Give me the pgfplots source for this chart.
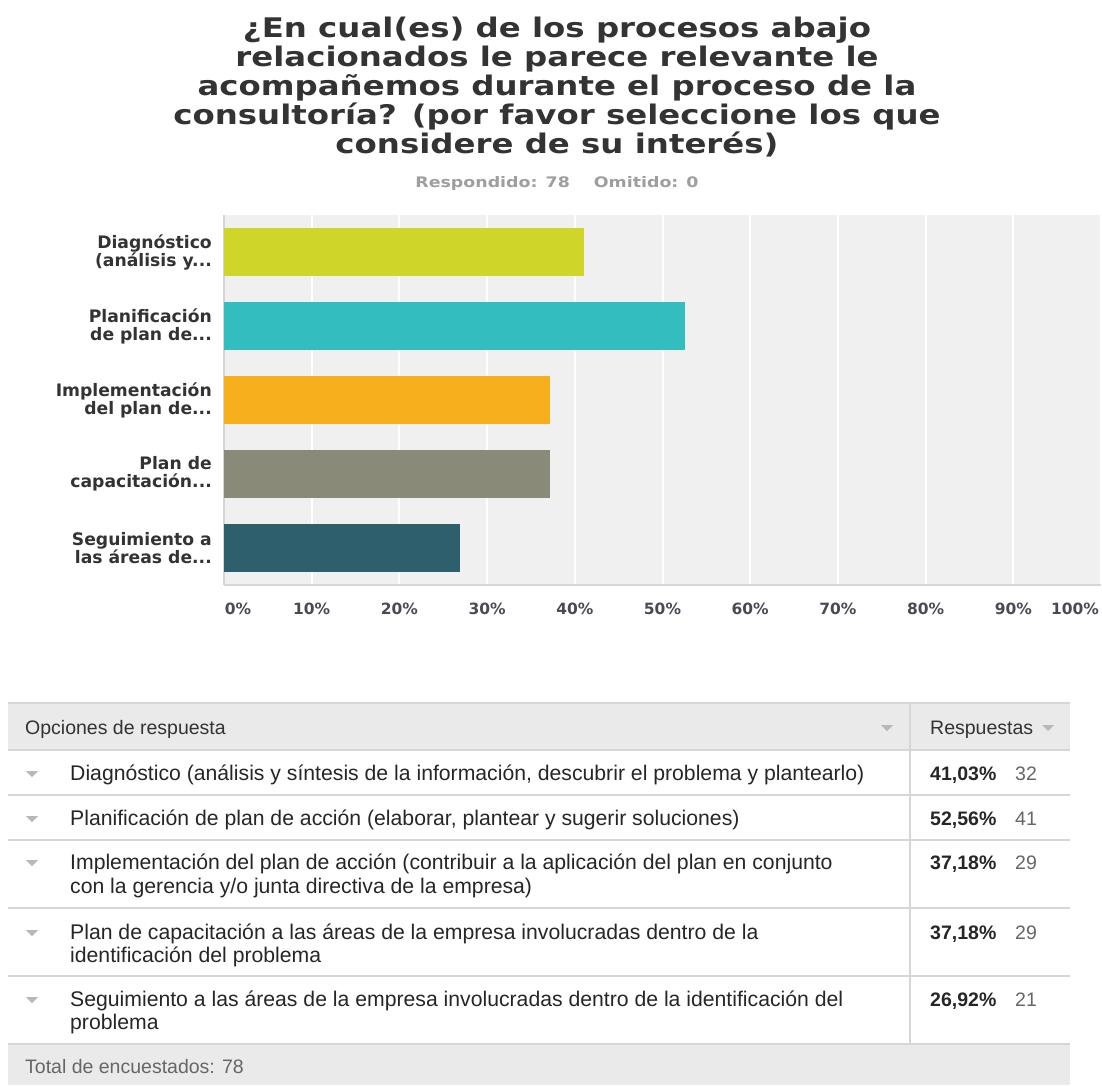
\documentclass[border=0pt]{standalone}
\usepackage{fontspec}
\setmainfont{Liberation Sans}
\newfontfamily\vfont{DejaVu Sans}
\newfontfamily\tfont[FakeStretch=1.2]{DejaVu Sans}
\usepackage{pgfplots}
\pgfplotsset{compat=1.18}
\definecolor{cA}{HTML}{D0D52A}
\definecolor{cB}{HTML}{33BDBF}
\definecolor{cC}{HTML}{F7AF1E}
\definecolor{cD}{HTML}{8A8A79}
\definecolor{cE}{HTML}{2E5F6C}
\definecolor{bg}{HTML}{F0F0F0}
\definecolor{tx}{HTML}{333333}
\definecolor{tb}{HTML}{262626}
\definecolor{tk}{HTML}{4A4A55}
\definecolor{hd}{HTML}{EAEAEA}
\definecolor{ln}{HTML}{D6D6D6}
\definecolor{tri}{HTML}{B8B8B8}
\newcommand{\dd}{.\kern0pt.\kern0pt.}
\begin{document}
\begin{tikzpicture}[x=1pt,y=1pt]
\useasboundingbox (0,0) rectangle (1102,-1085);
\fill[white] (0,0) rectangle (1102,-1085);
% title
\begin{scope}[every node/.style={anchor=base, inner sep=0pt, text=tx, font=\tfont\bfseries\fontsize{27}{29}\selectfont}]
\node at (557,-37) {¿En cual(es) de los procesos abajo};
\node at (557,-66) {relacionados le parece relevante le};
\node at (557,-95) {acompañemos durante el proceso de la};
\node at (557,-124) {consultoría? (por favor seleccione los que};
\node at (557,-153) {considere de su interés)};
\end{scope}
\node[anchor=base, inner sep=0pt, text=black!38, font=\tfont\bfseries\fontsize{14.5}{18}\selectfont] at (557,-187) {Respondido: 78\hspace{24pt}Omitido: 0};
% chart
\begin{axis}[
  at={(224pt,-585pt)}, anchor=south west,
  scale only axis, width=877pt, height=370pt,
  xbar, bar width=48pt,
  xmin=0, xmax=100, ymin=0.5, ymax=5.5, y dir=reverse,
  axis background/.style={fill=bg},
  axis lines*=left,
  x axis line style={draw=ln, line width=2.5pt},
  y axis line style={draw=ln, line width=1.5pt},
  major tick length=0pt,
  xtick={0,10,20,30,40,50,60,70,80,90,100},
  xticklabels={\hspace{28pt}0\%,10\%,20\%,30\%,40\%,50\%,60\%,70\%,80\%,90\%,{100\%\hspace{52pt}\null}},
  xticklabel style={anchor=base, yshift=-29pt, inner sep=0pt, text=tk, font=\vfont\bfseries\fontsize{15.5}{18}\selectfont},
  ytick={1,2,3,4,5},
  yticklabels={{Diagnóstico\\(análisis y\dd},{Planificación\\de plan de\dd},{Implementación\\del plan de\dd},{Plan de\\capacitación\dd},{Seguimiento a\\las áreas de\dd}},
  yticklabel style={align=right, anchor=east, inner sep=0pt, xshift=-12pt, text=tx, font=\vfont\bfseries\fontsize{17.2}{18}\selectfont},
  xmajorgrids, major grid style={draw=white, line width=2pt},
  clip=false,
]
\addplot[fill=cA, draw=none, bar shift=0pt] coordinates {(41.03,1)};
\addplot[fill=cB, draw=none, bar shift=0pt] coordinates {(52.56,2)};
\addplot[fill=cC, draw=none, bar shift=0pt] coordinates {(37.18,3)};
\addplot[fill=cD, draw=none, bar shift=0pt] coordinates {(37.18,4)};
\addplot[fill=cE, draw=none, bar shift=0pt] coordinates {(26.92,5)};
\end{axis}
% table
\fill[hd] (8,-703) rectangle (1070,-750);
\fill[hd] (8,-1044) rectangle (1070,-1085);
\draw[ln, line width=2pt] (8,-703) -- (1070,-703);
\foreach \yy in {750,795,840,908,976,1044} {\draw[ln, line width=2pt] (8,-\yy) -- (1070,-\yy);}
\draw[ln, line width=1.5pt] (910,-703) -- (910,-1044);
\foreach \xx/\yy in {887/728,1048/728,32/774,32/819,32/863,32/933,32/1000} {
  \fill[tri] (\xx-6,-\yy+3) -- (\xx+6,-\yy+3) -- (\xx,-\yy-3) -- cycle;}
\begin{scope}[every node/.style={anchor=base west, inner sep=0pt, text=tb, font=\fontsize{21.2}{24}\selectfont}]
\node[font=\fontsize{19.5}{24}\selectfont, text=tx] at (25,-734) {Opciones de respuesta};
\node[font=\fontsize{19.5}{24}\selectfont, text=tx] at (930,-734) {Respuestas};
\node at (70,-780) {Diagnóstico (análisis y síntesis de la información, descubrir el problema y plantearlo)};
\node at (70,-825) {Planificación de plan de acción (elaborar, plantear y sugerir soluciones)};
\node at (70,-869) {Implementación del plan de acción (contribuir a la aplicación del plan en conjunto};
\node at (70,-893) {con la gerencia y/o junta directiva de la empresa)};
\node at (70,-939) {Plan de capacitación a las áreas de la empresa involucradas dentro de la};
\node at (70,-962) {identificación del problema};
\node at (70,-1006) {Seguimiento a las áreas de la empresa involucradas dentro de la identificación del};
\node at (70,-1029) {problema};
\node[text=black!60, font=\fontsize{19.5}{24}\selectfont] at (25,-1073) {Total de encuestados: 78};
\node[font=\fontsize{19.5}{24}\selectfont\bfseries] at (930,-780) {41,03\%};
\node[font=\fontsize{19.5}{24}\selectfont\bfseries] at (930,-825) {52,56\%};
\node[font=\fontsize{19.5}{24}\selectfont\bfseries] at (930,-869) {37,18\%};
\node[font=\fontsize{19.5}{24}\selectfont\bfseries] at (930,-939) {37,18\%};
\node[font=\fontsize{19.5}{24}\selectfont\bfseries] at (930,-1006) {26,92\%};
\begin{scope}[every node/.append style={text=black!60, font=\fontsize{19.5}{24}\selectfont}]
\node at (1015,-780) {32};
\node at (1015,-825) {41};
\node at (1015,-869) {29};
\node at (1015,-939) {29};
\node at (1015,-1006) {21};
\end{scope}
\end{scope}
\end{tikzpicture}
\end{document}
